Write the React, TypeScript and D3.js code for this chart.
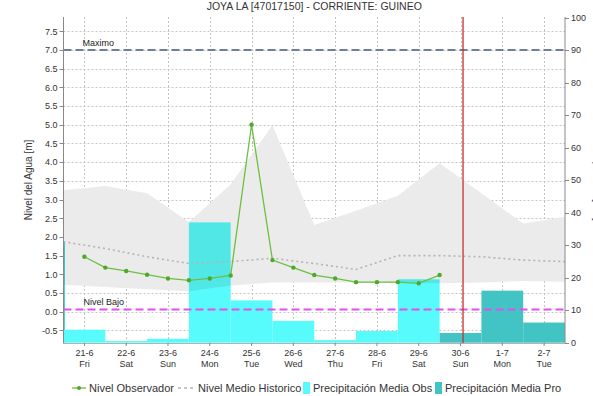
import React from "react";
import * as d3 from "d3";

const title = "JOYA LA [47017150] - CORRIENTE: GUINEO";
const days = ["21-6", "22-6", "23-6", "24-6", "25-6", "26-6", "27-6", "28-6", "29-6", "30-6", "1-7", "2-7"];
const weekdays = ["Fri", "Sat", "Sun", "Mon", "Tue", "Wed", "Thu", "Fri", "Sat", "Sun", "Mon", "Tue"];

// observed level, every half day from 21-6 noon
const obsTimes = [0, 0.5, 1, 1.5, 2, 2.5, 3, 3.5, 4, 4.5, 5, 5.5, 6, 6.5, 7, 7.5, 8, 8.5];
const obsLevel = [1.47, 1.18, 1.09, 0.99, 0.89, 0.84, 0.89, 0.97, 5.0, 1.38, 1.18, 0.98, 0.89, 0.79, 0.79, 0.79, 0.76, 0.98];

// historic values at day boundaries
const histTimes = [-0.5, 0.5, 1.5, 2.5, 3.5, 4.5, 5.5, 6.5, 7.5, 8.5, 9.5, 10.5, 11.5];
const histUpper = [3.25, 3.36, 3.17, 2.4, 3.4, 4.99, 2.32, 2.7, 3.1, 3.97, 3.17, 2.36, 2.54];
const histLower = [0.72, 0.66, 0.6, 0.55, 0.7, 0.78, 0.78, 0.78, 0.78, 0.76, 0.78, 0.82, 0.8];
const histMean = [1.87, 1.69, 1.47, 1.29, 1.34, 1.43, 1.29, 1.13, 1.5, 1.5, 1.47, 1.38, 1.34];

// precipitation (mm)
const precipObs = [4, 0.5, 1.2, 37, 13, 6.7, 0.8, 3.6, 19.5];
const precipPro = [3, 16, 6.2];
const prevDayPrecip = 31;

const nivelMaximo = 7.0;
const nivelBajo = 0.06;
const nowTime = 9.06;

const leftTicks = [-0.5, 0, 0.5, 1, 1.5, 2, 2.5, 3, 3.5, 4, 4.5, 5, 5.5, 6, 6.5, 7, 7.5];
const rightTicks = [0, 10, 20, 30, 40, 50, 60, 70, 80, 90, 100];

const W = 593, H = 396;
const L = 63.5, R = 565, T = 17, B = 343;
const FONT = "'Liberation Sans', Arial, sans-serif";

export default function App() {
  const xBand = d3.scaleBand<string>().domain(days).range([L, R]).padding(0);
  const xT = d3.scaleLinear().domain([-0.5, 11.5]).range([L, R]);
  const yL = d3.scaleLinear().domain([-0.837, 7.882]).range([B, T]);
  const yR = d3.scaleLinear().domain([0, 100]).range([B - 0.3, T + 0.5]);

  const area = d3
    .area<number>()
    .x((_, i) => xT(histTimes[i]))
    .y0((_, i) => yL(histLower[i]))
    .y1((_, i) => yL(histUpper[i]));
  const meanLine = d3.line<number>().x((_, i) => xT(histTimes[i])).y((d) => yL(d));
  const obsLine = d3.line<number>().x((_, i) => xT(obsTimes[i])).y((d) => yL(d));

  const bw = xBand.bandwidth();
  const proDays = days.slice(precipObs.length);

  return (
    <svg width={W} height={H} style={{ display: "block", position: "absolute", left: 0, top: 0 }} fontFamily={FONT}>
      <rect x={0} y={0} width={W} height={H} fill="#fff" />
      <defs>
        <clipPath id="plot">
          <rect x={L} y={T} width={R - L} height={B - T} />
        </clipPath>
      </defs>
      <text x={(L + R) / 2} y={10} textAnchor="middle" fontSize={10.5} fill="#333">{title}</text>

      {/* grid */}
      <g stroke="#c4c4c4" strokeWidth={1} strokeDasharray="2,2">
        {leftTicks.map((t) => (
          <line key={"h" + t} x1={L} x2={R} y1={Math.round(yL(t)) + 0.5} y2={Math.round(yL(t)) + 0.5} />
        ))}
        {days.map((d) => (
          <line key={"v" + d} x1={Math.round(xBand(d)! + bw / 2) + 0.5} x2={Math.round(xBand(d)! + bw / 2) + 0.5} y1={T} y2={B} />
        ))}
      </g>

      <g clipPath="url(#plot)">
        {/* precipitation bars */}
        <rect x={L - 0.5} y={yR(prevDayPrecip)} width={2} height={yR(0) - yR(prevDayPrecip)} fill="#40d8d8" />
        {precipObs.map((v, i) => (
          <rect key={"po" + i} x={xBand(days[i])!} y={yR(v)} width={bw} height={yR(0) - yR(v)} fill="#58fbfb" />
        ))}
        {precipPro.map((v, i) => (
          <rect key={"pp" + i} x={xBand(proDays[i])!} y={yR(v)} width={bw} height={yR(0) - yR(v)} fill="#43c4c4" />
        ))}
        {/* historic band */}
        <path d={area(histUpper)!} fill="#ebebeb" style={{ mixBlendMode: "multiply" }} />
        <path d={meanLine(histMean)!} fill="none" stroke="#b4b4b4" strokeWidth={1.6} strokeDasharray="2,3" />

        {/* reference lines */}
        <line x1={L} x2={R} y1={yL(nivelMaximo)} y2={yL(nivelMaximo)} stroke="#6f7e9c" strokeWidth={2} strokeDasharray="8,4" />
        <line x1={L} x2={R} y1={yL(nivelBajo)} y2={yL(nivelBajo)} stroke="#e44ef0" strokeWidth={2} strokeDasharray="8,4" />

        {/* observed */}
        <path d={obsLine(obsLevel)!} fill="none" stroke="#6cc040" strokeWidth={1.3} />
        {obsLevel.map((v, i) => (
          <circle key={"o" + i} cx={xT(obsTimes[i])} cy={yL(v)} r={2.2} fill="#4fa82c" />
        ))}

        <line x1={xT(nowTime)} x2={xT(nowTime)} y1={T} y2={B} stroke="#c8302c" strokeWidth={1.3} />
      </g>

      <text x={xT(0) - 2} y={yL(nivelMaximo) - 4} fontSize={9} fill="#222">Maximo</text>
      <text x={xT(0) - 1} y={yL(nivelBajo) - 4} fontSize={9} fill="#222">Nivel Bajo</text>

      {/* left axis */}
      <line x1={L} x2={L} y1={T} y2={B} stroke="#888" />
      {leftTicks.map((t) => (
        <g key={"lt" + t}>
          <line x1={L - 4} x2={L} y1={Math.round(yL(t)) + 0.5} y2={Math.round(yL(t)) + 0.5} stroke="#888" />
          <text x={L - 6} y={yL(t) + 3.3} textAnchor="end" fontSize={9} fill="#333">{t.toFixed(1)}</text>
        </g>
      ))}
      <text transform={`translate(32,${(T + B) / 2}) rotate(-90)`} textAnchor="middle" fontSize={10} fill="#333">Nivel del Agua [m]</text>

      {/* right axis */}
      <line x1={R} x2={R} y1={T} y2={B} stroke="#888" />
      {rightTicks.map((t) => (
        <g key={"rt" + t}>
          <line x1={R} x2={R + 4} y1={Math.round(yR(t)) + 0.5} y2={Math.round(yR(t)) + 0.5} stroke="#888" />
          <text x={R + 6} y={yR(t) + 3.3} fontSize={9} fill="#333">{t}</text>
        </g>
      ))}
      <text transform={`translate(594,${(T + B) / 2}) rotate(90)`} textAnchor="middle" fontSize={10} fill="#333">Precipitación [mm]</text>

      {/* bottom axis */}
      <line x1={L} x2={R} y1={B + 0.5} y2={B + 0.5} stroke="#666" strokeDasharray="1,1" />
      {days.map((d, i) => (
        <g key={"xt" + d}>
          <line x1={xBand(d)! + bw / 2} x2={xBand(d)! + bw / 2} y1={B} y2={B + 3} stroke="#888" />
          <text x={xBand(d)! + bw / 2} y={B + 13} textAnchor="middle" fontSize={9} fill="#333">{d}</text>
          <text x={xBand(d)! + bw / 2} y={B + 24} textAnchor="middle" fontSize={9} fill="#333">{weekdays[i]}</text>
        </g>
      ))}

      {/* legend */}
      <g fontSize={11} fill="#333">
        <line x1={72} x2={86} y1={388} y2={388} stroke="#6cc040" strokeWidth={1.3} />
        <circle cx={79} cy={388} r={2} fill="#4fa82c" />
        <text x={89} y={392}>Nivel Observador</text>
        <line x1={178} x2={194} y1={388} y2={388} stroke="#b4b4b4" strokeWidth={1.5} strokeDasharray="3,3" />
        <text x={198} y={392}>Nivel Medio Historico</text>
        <rect x={303} y={382} width={7} height={12} fill="#58fbfb" />
        <text x={313} y={392}>Precipitación Media Obs</text>
        <rect x={435} y={382} width={7} height={12} fill="#43c4c4" />
        <text x={445} y={392}>Precipitación Media Pro</text>
      </g>
    </svg>
  );
}
